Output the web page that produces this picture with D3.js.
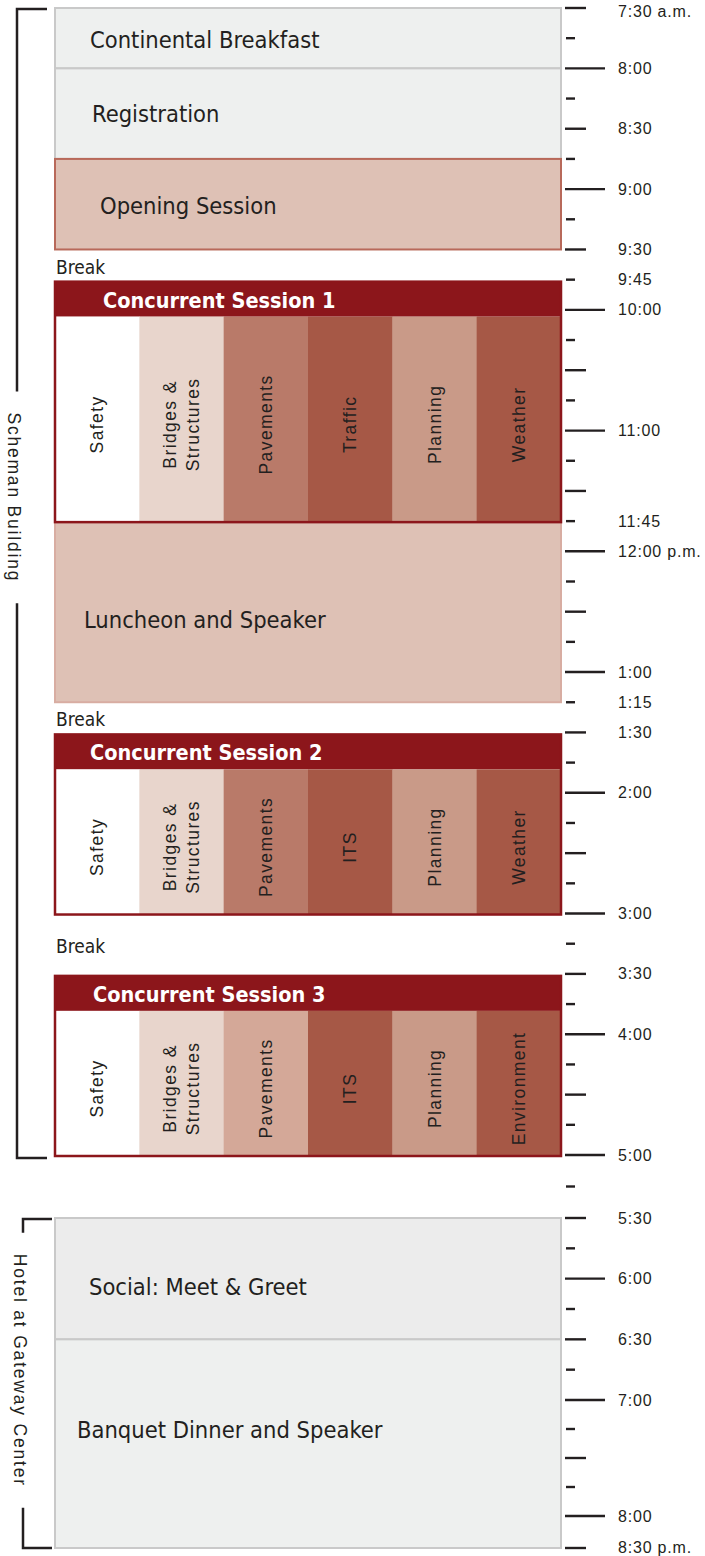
<!DOCTYPE html>
<html><head><meta charset="utf-8">
<script src="https://cdn.jsdelivr.net/npm/d3@7"></script>
<style>
html,body{margin:0;padding:0;background:#fff;}
svg{display:block;}
</style></head><body>
<svg id="chart" width="705" height="1556"></svg>
<script>
// ---------------- data (24-hour clock) ----------------
const eventNames  = ["Continental Breakfast", "Registration", "Opening Session", "Luncheon and Speaker", "Social: Meet & Greet", "Banquet Dinner and Speaker"];
const eventStart  = ["7:30", "8:00", "8:45", "11:45", "17:30", "18:30"];
const eventEnd    = ["8:00", "8:45", "9:30", "13:15", "18:30", "20:30"];

const sessionNames = ["Concurrent Session 1", "Concurrent Session 2", "Concurrent Session 3"];
const sessionStart = ["9:45", "13:30", "15:30"];
const sessionEnd   = ["11:45", "15:00", "17:00"];
const sessionTracks = [
  ["Safety", "Bridges &|Structures", "Pavements", "Traffic", "Planning", "Weather"],
  ["Safety", "Bridges &|Structures", "Pavements", "ITS", "Planning", "Weather"],
  ["Safety", "Bridges &|Structures", "Pavements", "ITS", "Planning", "Environment"]
];

const breakStart = ["9:30", "13:15", "15:00"];
const breakEnd   = ["9:45", "13:30", "15:30"];

const venueNames = ["Scheman Building", "Hotel at Gateway Center"];
const venueStart = ["7:30", "17:30"];
const venueEnd   = ["17:00", "20:30"];

const tickLabels = ["7:30 a.m.", "8:00", "8:30", "9:00", "9:30", "9:45", "10:00", "11:00", "11:45",
  "12:00 p.m.", "1:00", "1:15", "1:30", "2:00", "3:00", "3:30", "4:00", "5:00", "5:30", "6:00",
  "6:30", "7:00", "8:00", "8:30 p.m."];

// ---------------- styles / layout ----------------
const eventFill = {
  "Continental Breakfast": "#eef0ef", "Registration": "#eef0ef", "Opening Session": "#dec1b5",
  "Luncheon and Speaker": "#dec1b5", "Social: Meet & Greet": "#ececec", "Banquet Dinner and Speaker": "#eef0ef"
};
const eventStroke = {
  "Continental Breakfast": "#c9c9c9", "Registration": "#c9c9c9", "Opening Session": "#b8695a",
  "Luncheon and Speaker": "#d8ada2", "Social: Meet & Greet": "#c9c9c9", "Banquet Dinner and Speaker": "#c9c9c9"
};
const eventLabelNudge = {
  "Continental Breakfast": [35, 2], "Registration": [37, 0], "Opening Session": [45, 2],
  "Luncheon and Speaker": [29, 8], "Social: Meet & Greet": [34, 8], "Banquet Dinner and Speaker": [22, -14]
};
const sessionLabelNudge = [48, 35, 38];
const trackFills = [
  ["#ffffff", "#e8d5cc", "#b97a69", "#a65846", "#c99a88", "#a65846"],
  ["#ffffff", "#e8d5cc", "#b97a69", "#a65846", "#c99a88", "#a65846"],
  ["#ffffff", "#e8d5cc", "#d4a898", "#a65846", "#c99a88", "#a65846"]
];
const venueStyle = [{x: 17, arm: 47, frac: 0.425, bottomPad: 3}, {x: 23, arm: 52, frac: 0.46, bottomPad: 0}];

const DARK_RED = "#8c161b";
const TEXT = "#231f20";
const NARROW = "'Liberation Sans Narrow', 'DejaVu Sans Condensed', 'Liberation Sans', sans-serif";
const SANS = "'Liberation Sans', Arial, sans-serif";

const left = 55, right = 561;
const headerH = 35;

// minutes since 7:30 a.m. from a 24-hour "h:mm"
function toMin(s) {
  const [h, m] = s.split(":").map(Number);
  return h * 60 + m - 450;
}
// tick labels are in 12-hour form and in order: roll over to p.m. when the clock goes back
const tickMinutes = [];
tickLabels.reduce((prev, lab) => {
  const [h, m] = lab.replace(/\s*[ap]\.m\./, "").split(":").map(Number);
  let v = (h % 12) * 60 + m;
  while (v < prev) v += 720;
  tickMinutes.push(v - 450);
  return v;
}, 0);

const y = d3.scaleLinear()
  .domain([0, 570, 600, 690, 750, 780])
  .range([8, 1155, 1218, 1400, 1516, 1548]);

const x = d3.scaleBand().domain(d3.range(6)).range([left, right]);

const svg = d3.select("#chart");

// ---------------- time axis ----------------
const tickMins = d3.range(0, 751, 15).concat([780]);
const axis = svg.append("g");
axis.selectAll("line").data(tickMins).join("line")
  .attr("x1", d => ((d + 450) % 30 === 0) ? 565 : 566)
  .attr("x2", d => ((d + 450) % 60 === 0) ? 605 : ((d + 450) % 30 === 0 ? 586 : 575))
  .attr("y1", d => y(d)).attr("y2", d => y(d))
  .attr("stroke", TEXT).attr("stroke-width", 2.4);

axis.selectAll("text").data(tickLabels).join("text")
  .attr("x", 618).attr("y", (d, i) => Math.min(Math.max(y(tickMinutes[i]), 11), 1547))
  .attr("dominant-baseline", "central")
  .attr("font-family", SANS).attr("font-size", 16).attr("letter-spacing", 0.8)
  .attr("fill", TEXT)
  .text(d => d);

// ---------------- venue brackets ----------------
venueNames.forEach((name, i) => {
  const st = venueStyle[i];
  const y0 = y(toMin(venueStart[i])) + 1, y1 = y(toMin(venueEnd[i])) + st.bottomPad;
  const cy = y0 + (y1 - y0) * st.frac;
  const g = svg.append("g");
  const t = g.append("text")
    .attr("transform", `translate(${st.x - 3},${cy}) rotate(90)`)
    .attr("text-anchor", "middle").attr("dominant-baseline", "central")
    .attr("font-family", SANS).attr("font-size", 17.5).attr("letter-spacing", 1.8)
    .attr("fill", TEXT).text(name);
  const half = t.node().getComputedTextLength() / 2 + 21;
  g.append("path")
    .attr("d", `M${st.arm},${y0}H${st.x}V${cy - half}M${st.x},${cy + half}V${y1}H${st.arm}`)
    .attr("fill", "none").attr("stroke", TEXT).attr("stroke-width", 2.5);
});

// ---------------- single events ----------------
const ev = svg.append("g");
eventNames.forEach((name, i) => {
  const y0 = y(toMin(eventStart[i])), y1 = y(toMin(eventEnd[i]));
  ev.append("rect")
    .attr("x", left).attr("y", y0).attr("width", right - left).attr("height", y1 - y0)
    .attr("fill", eventFill[name]).attr("stroke", eventStroke[name]).attr("stroke-width", 2);
});
eventNames.forEach((name, i) => {
  const y0 = y(toMin(eventStart[i])), y1 = y(toMin(eventEnd[i]));
  const n = eventLabelNudge[name];
  ev.append("text")
    .attr("x", left + n[0]).attr("y", (y0 + y1) / 2 + n[1])
    .attr("dominant-baseline", "central")
    .attr("font-family", NARROW).attr("font-size", 23.5)
    .attr("fill", TEXT).text(name);
});

// ---------------- breaks ----------------
svg.append("g").selectAll("text").data(breakStart).join("text")
  .attr("x", left + 1)
  .attr("y", (d, i) => (y(toMin(d)) + y(toMin(breakEnd[i]))) / 2 + 2)
  .attr("dominant-baseline", "central")
  .attr("font-family", NARROW).attr("font-size", 19)
  .attr("fill", TEXT).text("Break");

// ---------------- concurrent sessions ----------------
sessionNames.forEach((name, si) => {
  const top = y(toMin(sessionStart[si])) + 2;
  const bodyTop = top + headerH;
  const bottom = y(toMin(sessionEnd[si])) + 1;
  const g = svg.append("g");
  g.append("rect").attr("x", left).attr("y", top).attr("width", right - left).attr("height", headerH)
    .attr("fill", DARK_RED);
  g.selectAll("rect.track").data(sessionTracks[si]).join("rect").attr("class", "track")
    .attr("x", (d, k) => x(k)).attr("y", bodyTop)
    .attr("width", x.bandwidth() + 0.5).attr("height", bottom - bodyTop)
    .attr("fill", (d, k) => trackFills[si][k]);
  g.append("rect").attr("x", left).attr("y", top).attr("width", right - left).attr("height", bottom - top)
    .attr("fill", "none").attr("stroke", DARK_RED).attr("stroke-width", 2.5);
  g.append("text")
    .attr("x", left + sessionLabelNudge[si]).attr("y", top + headerH / 2 + 1)
    .attr("dominant-baseline", "central")
    .attr("font-family", NARROW).attr("font-weight", "bold").attr("font-size", 21.5)
    .attr("fill", "#ffffff").text(name);
  const cy = (bodyTop + bottom) / 2 + 5;
  sessionTracks[si].forEach((label, k) => {
    const lines = label.split("|");
    const cx = x(k) + x.bandwidth() / 2;
    const lh = 23;
    const t = g.append("text")
      .attr("transform", `translate(${cx},${cy}) rotate(-90)`)
      .attr("text-anchor", "middle")
      .attr("font-family", SANS).attr("font-size", 17.5).attr("letter-spacing", 1.4)
      .attr("fill", TEXT);
    lines.forEach((ln, j) => {
      t.append("tspan").attr("x", 0)
        .attr("y", (j - (lines.length - 1) / 2) * lh)
        .attr("dominant-baseline", "central")
        .text(ln);
    });
  });
});
</script>
</body></html>
